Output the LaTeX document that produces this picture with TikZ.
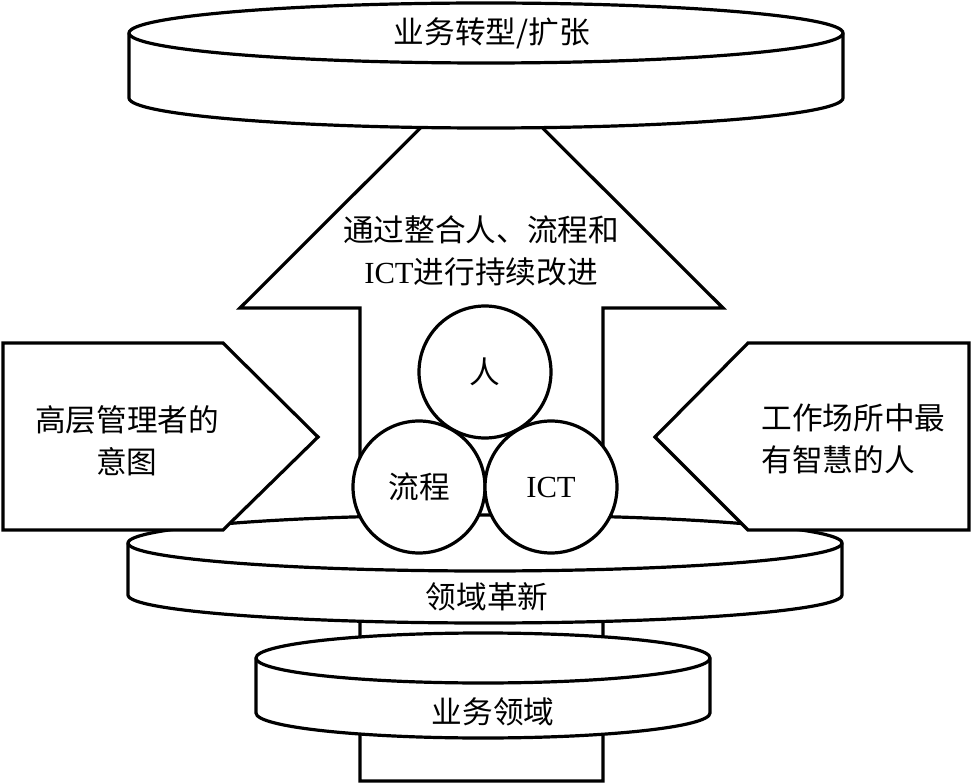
\documentclass[tikz,border=0pt]{standalone}
\usepackage{fontspec}
\setmainfont{Liberation Serif}
\newfontfamily\cjk{Noto Sans CJK SC}
\begin{document}
\begin{tikzpicture}[x=0.75pt,y=0.75pt,line width=2.4pt,line join=miter,
  shapeline/.style={draw=black,fill=white},
  lbl/.style={font=\fontsize{23}{31.5}\selectfont\cjk,align=center,inner sep=0pt},
  ball/.style={circle,draw=black,fill=white,minimum size=99pt,inner sep=0pt,font=\fontsize{23}{26}\selectfont\cjk}]
\useasboundingbox (0,0) rectangle (971,783);
% big arrow (behind everything)
\draw[shapeline] (360,2) -- (360,475) -- (240,475) -- (481.5,716) -- (723,475) -- (603,475) -- (603,2) -- cycle;
% top disc
\draw[shapeline] (129,750) -- (129,685) arc[start angle=180,end angle=360,x radius=357,y radius=30]
  -- (843,750) arc[start angle=0,end angle=180,x radius=357,y radius=30] -- cycle;
\draw (129,750) arc[start angle=180,end angle=360,x radius=357,y radius=30];
% middle disc
\draw[shapeline] (128,240) -- (128,188) arc[start angle=180,end angle=360,x radius=357,y radius=28]
  -- (842,240) arc[start angle=0,end angle=180,x radius=357,y radius=28] -- cycle;
\draw (128,240) arc[start angle=180,end angle=360,x radius=357,y radius=28];
% bottom disc
\draw[shapeline] (256,125) -- (256,70) arc[start angle=180,end angle=360,x radius=227,y radius=25]
  -- (710,125) arc[start angle=0,end angle=180,x radius=227,y radius=25] -- cycle;
\draw (256,125) arc[start angle=180,end angle=360,x radius=227,y radius=25];
% side pentagons
\draw[shapeline] (3,440) -- (223,440) -- (318,346) -- (223,253) -- (3,253) -- cycle;
\draw[shapeline] (969,440) -- (748,440) -- (655,346) -- (748,253) -- (969,253) -- cycle;
% circles
\node[ball] (ren) at (485,411) {人};
\node[ball] (liucheng) at (419,296) {流程};
\node[ball] (ict) at (551,296) {\rmfamily ICT};
% labels
\node[lbl] (top) at (492,750) {业务转型/扩张};
\node[lbl] (improve) at (481,532) {通过整合人、流程和\\{\rmfamily ICT}进行持续改进};
\node[lbl] (mgmt) at (127,342) {高层管理者的\\意图};
\node[lbl,align=left,anchor=west] (wise) at (760,344) {工作场所中最\\有智慧的人};
\node[lbl] (domainnew) at (487,186) {领域革新};
\node[lbl] (domain) at (493,71) {业务领域};
\end{tikzpicture}
\end{document}
